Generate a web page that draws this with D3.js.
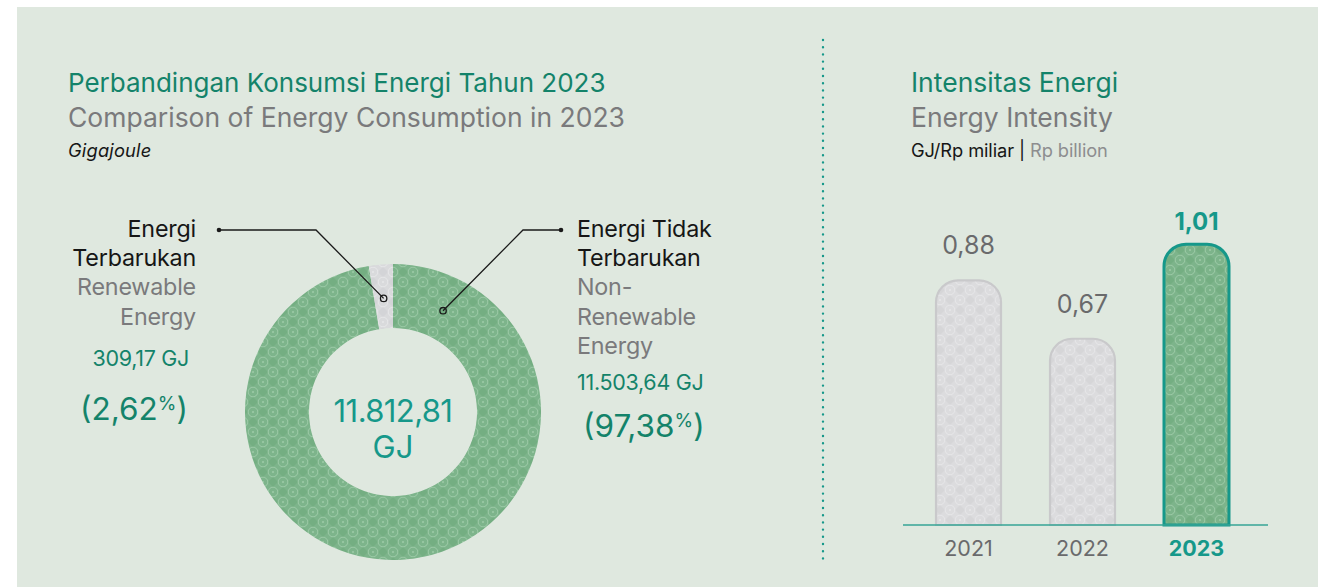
<!DOCTYPE html>
<html>
<head>
<meta charset="utf-8">
<script src="https://cdn.jsdelivr.net/npm/d3@7"></script>
<style>
  html, body { margin: 0; padding: 0; background: #ffffff; }
  svg { display: block; }
  text { font-family: "Inter", "Noto Sans", sans-serif; }
</style>
</head>
<body>
<svg id="chart" width="1318" height="587"></svg>
<script>
// Energy consumption 2023 (Gigajoule)
const energyKeys = ["nonrenewable", "renewable"];
const energyValues = [11503.64, 309.17];
const energyValueLabels = ["11.503,64 GJ", "309,17 GJ"];
const energyPctLabels = ["97,38", "2,62"];
const energyTotalLabel = "11.812,81";

// Energy intensity (GJ / Rp billion)
const years = ["2021", "2022", "2023"];
const intensity = [0.88, 0.67, 1.01];
const intensityLabels = ["0,88", "0,67", "1,01"];

const C = {
  panel: "#dfe8df",
  green: "#14836a",
  teal: "#16988a",
  gray: "#7a7a7c",
  ink: "#161616",
  donutGreen: "#7db48b",
  donutGray: "#d9dadc",
  barGray: "#dcdcde",
  barGrayStroke: "#c9c9cb"
};

const svg = d3.select("#chart");
const defs = svg.append("defs");

// Ornamental batik-like fill patterns
function ornament(id, base, light, dark) {
  const s = 20;
  const p = defs.append("pattern").attr("id", id)
    .attr("patternUnits", "userSpaceOnUse").attr("width", s).attr("height", s);
  p.append("rect").attr("width", s).attr("height", s).attr("fill", base);
  // darker diamonds
  [[s / 2, 0], [0, s / 2], [s, s / 2], [s / 2, s]].forEach(([cx, cy]) => {
    p.append("path")
      .attr("d", `M${cx},${cy - 5}L${cx + 5},${cy}L${cx},${cy + 5}L${cx - 5},${cy}Z`)
      .attr("fill", dark);
  });
  // light rings and curls
  [[0, 0], [s, 0], [0, s], [s, s], [s / 2, s / 2]].forEach(([cx, cy]) => {
    p.append("circle").attr("cx", cx).attr("cy", cy).attr("r", 4.8)
      .attr("fill", "none").attr("stroke", light).attr("stroke-width", 1);
    p.append("circle").attr("cx", cx).attr("cy", cy).attr("r", 1.1).attr("fill", light);
  });
  return `url(#${id})`;
}
const fillGreen = ornament("orn-green", C.donutGreen, "rgba(190,226,197,0.45)", "rgba(100,163,116,0.35)");
const fillGray = ornament("orn-gray", C.donutGray, "rgba(238,238,240,0.6)", "rgba(204,204,208,0.45)");
const fillBarGray = ornament("orn-bargray", C.barGray, "rgba(236,236,238,0.6)", "rgba(206,206,209,0.45)");

// Panel background
svg.append("rect").attr("x", 17).attr("y", 7).attr("width", 1301).attr("height", 580)
  .attr("fill", C.panel);

// ---------- Left: donut ----------
const left = svg.append("g");
left.append("text").attr("x", 68).attr("y", 92).attr("fill", C.green)
  .style("font-size", "26px")
  .text("Perbandingan Konsumsi Energi Tahun 2023");
left.append("text").attr("x", 68).attr("y", 127).attr("fill", C.gray)
  .style("font-size", "26.5px")
  .text("Comparison of Energy Consumption in 2023");
left.append("text").attr("x", 68).attr("y", 157).attr("fill", C.ink)
  .style("font-size", "18.3px").style("font-style", "italic").style("letter-spacing", "0.2px")
  .text("Gigajoule");

const cx = 393, cy = 412, rOuter = 148, rInner = 84;
const pie = d3.pie().sort(null).value(d => d.value);
const arcs = pie(energyKeys.map((k, i) => ({ key: k, value: energyValues[i] })));
const arc = d3.arc().innerRadius(rInner).outerRadius(rOuter);
const donut = left.append("g").attr("transform", `translate(${cx},${cy})`);
donut.selectAll("path").data(arcs).join("path")
  .attr("d", arc)
  .attr("fill", d => d.data.key === "renewable" ? fillGray : fillGreen);

donut.append("text").attr("text-anchor", "middle").attr("y", 10)
  .attr("fill", C.teal).style("font-size", "31px").style("letter-spacing", "-0.6px")
  .text(energyTotalLabel);
donut.append("text").attr("text-anchor", "middle").attr("y", 46)
  .attr("fill", C.teal).style("font-size", "31px").text("GJ");

// Leader lines
const rMid = 114;
function polar(angle, r) { return [cx + r * Math.sin(angle), cy - r * Math.cos(angle)]; }
const renewArc = arcs[1];
const pRenew = polar((renewArc.startAngle + renewArc.endAngle) / 2 - 2 * Math.PI, rMid);
const pNon = polar(26.3 * Math.PI / 180, rMid - 1);
const leaders = [
  { pts: [pRenew, [316, 230], [219, 230]] },
  { pts: [pNon, [523, 230], [561, 230]] }
];
leaders.forEach(l => {
  left.append("path").attr("d", d3.line()(l.pts))
    .attr("fill", "none").attr("stroke", "#1a1a1a").attr("stroke-width", 1.3);
  left.append("circle").attr("cx", l.pts[0][0]).attr("cy", l.pts[0][1]).attr("r", 3.2)
    .attr("fill", "none").attr("stroke", "#1a1a1a").attr("stroke-width", 1.3);
  left.append("circle").attr("cx", l.pts[2][0]).attr("cy", l.pts[2][1]).attr("r", 2.3)
    .attr("fill", "#1a1a1a");
});

function labelBlock(x, anchor, lines, value, pct, valueX, valueY, pctX, pctY) {
  const g = left.append("g").attr("text-anchor", anchor);
  lines.forEach((ln, i) => {
    g.append("text").attr("x", x).attr("y", 237 + i * 29.2)
      .attr("fill", ln.c).style("font-size", "23.3px").style("letter-spacing", "-0.2px")
      .text(ln.t);
  });
  g.append("text").attr("x", valueX).attr("y", valueY)
    .attr("fill", C.green).style("font-size", "21.5px").style("letter-spacing", "-0.3px")
    .text(value);
  const t = g.append("text").attr("x", pctX).attr("y", pctY)
    .attr("fill", C.green).style("font-size", "31.5px");
  t.append("tspan").text("(" + pct);
  t.append("tspan").attr("dy", -10).style("font-size", "19px").text("%");
  t.append("tspan").attr("dy", 10).text(")");
}
labelBlock(196, "end", [
  { t: "Energi", c: C.ink }, { t: "Terbarukan", c: C.ink },
  { t: "Renewable", c: C.gray }, { t: "Energy", c: C.gray }
], energyValueLabels[1], energyPctLabels[1], 189, 366, 188, 420);
labelBlock(577, "start", [
  { t: "Energi Tidak", c: C.ink }, { t: "Terbarukan", c: C.ink },
  { t: "Non-", c: C.gray }, { t: "Renewable", c: C.gray }, { t: "Energy", c: C.gray }
], energyValueLabels[0], energyPctLabels[0], 577, 390, 583, 437);

// Dotted divider
svg.append("line").attr("x1", 823).attr("x2", 823).attr("y1", 40).attr("y2", 560)
  .attr("stroke", C.teal).attr("stroke-width", 2.4)
  .attr("stroke-linecap", "round").attr("stroke-dasharray", "0 7.2");

// ---------- Right: bars ----------
const right = svg.append("g");
right.append("text").attr("x", 911).attr("y", 92).attr("fill", C.green)
  .style("font-size", "26.5px").text("Intensitas Energi");
right.append("text").attr("x", 911).attr("y", 127).attr("fill", C.gray)
  .style("font-size", "26.5px").text("Energy Intensity");
const unit = right.append("text").attr("x", 911).attr("y", 157).style("font-size", "18.3px")
  .style("letter-spacing", "-0.1px");
unit.append("tspan").attr("fill", C.ink).text("GJ/Rp miliar | ");
unit.append("tspan").attr("fill", "#8d8d8f").text("Rp billion");

const baseY = 525;
const x = d3.scaleBand().domain(years).range([911.5, 1253.5])
  .paddingInner(0.43).paddingOuter(0.215);
const y = d3.scaleLinear().domain([0, 1]).range([baseY, baseY - 278]);

function barPath(x0, w, yTop, y0, r) {
  return `M${x0},${y0}V${yTop + r}A${r},${r} 0 0 1 ${x0 + r},${yTop}` +
    `H${x0 + w - r}A${r},${r} 0 0 1 ${x0 + w},${yTop + r}V${y0}Z`;
}
const bars = years.map((yr, i) => ({ yr, v: intensity[i], lbl: intensityLabels[i], hi: i === years.length - 1 }));

right.selectAll("path.bar").data(bars).join("path").attr("class", "bar")
  .attr("d", d => barPath(x(d.yr), x.bandwidth(), y(d.v), baseY, 22))
  .attr("fill", d => d.hi ? fillGreen : fillBarGray)
  .attr("stroke", d => d.hi ? C.teal : C.barGrayStroke)
  .attr("stroke-width", d => d.hi ? 3 : 2.2);

right.selectAll("text.val").data(bars).join("text").attr("class", "val")
  .attr("x", d => x(d.yr) + x.bandwidth() / 2)
  .attr("y", d => y(d.v) - (d.hi ? 14 : 26))
  .attr("text-anchor", "middle")
  .attr("fill", d => d.hi ? C.teal : "#6a6a6c")
  .style("font-size", d => d.hi ? "24px" : "25px")
  .style("font-weight", d => d.hi ? "700" : "400")
  .text(d => d.lbl);

right.append("line").attr("x1", 903).attr("x2", 1268).attr("y1", baseY).attr("y2", baseY)
  .attr("stroke", "#36a596").attr("stroke-width", 1.6);

const xAxis = right.append("g").attr("transform", `translate(0,${baseY})`)
  .call(d3.axisBottom(x).tickSize(0).tickPadding(16));
xAxis.select(".domain").remove();
xAxis.selectAll("text")
  .style("font-family", "Inter, sans-serif")
  .style("font-size", "21.5px")
  .attr("fill", d => d === years[years.length - 1] ? C.teal : "#6a6a6c")
  .style("font-weight", d => d === years[years.length - 1] ? "700" : "400");
</script>
</body>
</html>
